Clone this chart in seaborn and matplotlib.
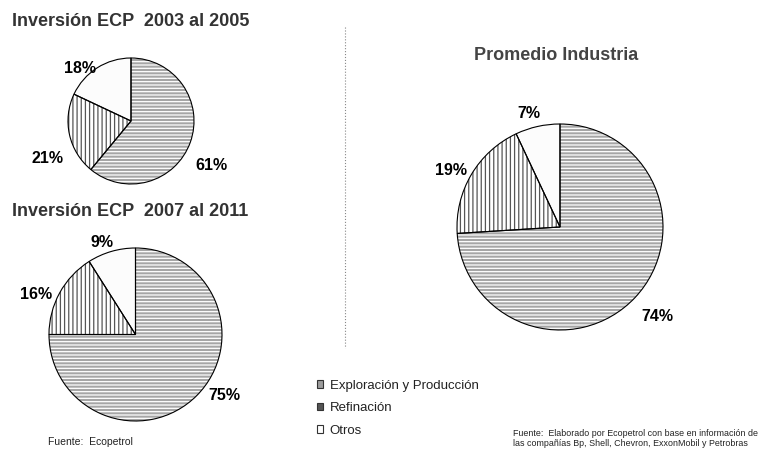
import matplotlib
matplotlib.use("Agg")
import matplotlib.pyplot as plt
import seaborn as sns
from matplotlib.patches import Patch
from matplotlib.lines import Line2D

# datos (porcentaje de inversión por segmento)
categories = ["Exploración y Producción", "Refinación", "Otros"]
ecp_2003_2005 = [61, 21, 18]
ecp_2007_2011 = [75, 16, 9]
promedio_industria = [74, 19, 7]

titles = ["Inversión ECP  2003 al 2005", "Inversión ECP  2007 al 2011", "Promedio Industria"]

sns.set_theme(style="white")
plt.rcParams["font.family"] = ["Liberation Sans", "DejaVu Sans"]
plt.rcParams["hatch.linewidth"] = 0.9

W, H = 767, 450
fig = plt.figure(figsize=(W / 100, H / 100), dpi=100)

face_colors = ["#a6a6a6", "#ffffff", "#fcfcfc"]
hatches = ["-----", "||||", ""]
hatch_colors = ["#ffffff", "#555555", "#fcfcfc"]


def px_rect(cx, cy, r):
    return [(cx - r) / W, (H - cy - r) / H, 2 * r / W, 2 * r / H]


def draw_pie(rect, values, label_pos):
    ax = fig.add_axes(rect)
    wedges, _ = ax.pie(values, startangle=90, counterclock=False,
                       colors=face_colors, wedgeprops=dict(linewidth=0))
    for w, h, hc in zip(wedges, hatches, hatch_colors):
        w.set_hatch(h)
        w.set_edgecolor(hc)
    ax.pie(values, startangle=90, counterclock=False,
           wedgeprops=dict(fill=False, edgecolor="black", linewidth=0.8))
    ax.set_xlim(-1, 1)
    ax.set_ylim(-1, 1)
    for v, (x, y) in zip(values, label_pos):
        ax.text(x, y, f"{v}%", ha="center", va="center",
                fontsize=11.5, fontweight="bold", color="black")
    return ax


draw_pie(px_rect(131, 121, 63), ecp_2003_2005,
         [(1.28, -0.71), (-1.32, -0.59), (-0.81, 0.84)])
draw_pie(px_rect(135.5, 334.5, 86.5), ecp_2007_2011,
         [(1.03, -0.70), (-1.15, 0.46), (-0.39, 1.06)])
draw_pie(px_rect(560, 227, 103), promedio_industria,
         [(0.95, -0.87), (-1.06, 0.55), (-0.30, 1.10)])

fig.text(12 / W, 1 - 22 / H, titles[0], ha="left", va="center",
         fontsize=13, fontweight="bold", color="#333333")
fig.text(12 / W, 1 - 211 / H, titles[1], ha="left", va="center",
         fontsize=13, fontweight="bold", color="#333333")
fig.text(556 / W, 1 - 56 / H, titles[2], ha="center", va="center",
         fontsize=13, fontweight="bold", color="#444444")

# separador vertical
fig.add_artist(Line2D([345 / W, 345 / W], [1 - 27 / H, 1 - 348 / H],
                      color="#888888", lw=0.8, ls=":"))

handles = [Patch(facecolor="#9c9c9c", edgecolor="#333333", lw=0.8),
           Patch(facecolor="#555555", edgecolor="#333333", lw=0.8),
           Patch(facecolor="#ffffff", edgecolor="#333333", lw=0.8)]
fig.legend(handles, categories, loc="upper left",
           bbox_to_anchor=(310 / W, 1 - 373 / H), frameon=False,
           fontsize=9.5, borderpad=0, handlelength=0.5, handleheight=0.5,
           handletextpad=0.5, labelspacing=0.8, labelcolor="#222222")

fig.text(48 / W, 1 - 442 / H, "Fuente:  Ecopetrol", ha="left", va="center",
         fontsize=7.5, color="#222222")
fig.text(513 / W, 1 - 438.5 / H,
         "Fuente:  Elaborado por Ecopetrol con base en información de\n"
         "las compañías Bp, Shell, Chevron, ExxonMobil y Petrobras",
         ha="left", va="center", fontsize=6.4, linespacing=1.05, color="#222222")

fig.savefig("out.png", dpi=100)
